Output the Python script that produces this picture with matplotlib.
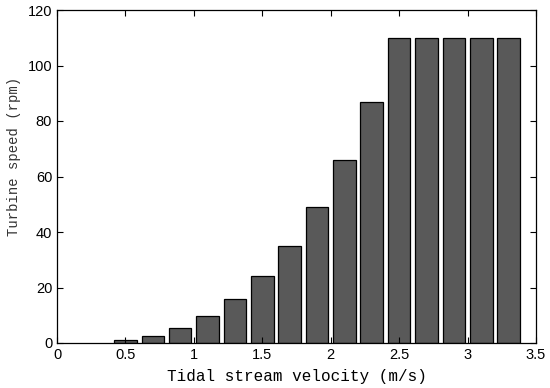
import numpy as np
import matplotlib
matplotlib.use('Agg')
import matplotlib.pyplot as plt

# tidal stream velocity (m/s) and turbine speed (rpm)
velocity = [0.5, 0.7, 0.9, 1.1, 1.3, 1.5, 1.7, 1.9, 2.1, 2.3, 2.5, 2.7, 2.9, 3.1, 3.3]
speed = [1.1, 2.5, 5.3, 9.6, 15.9, 24.1, 35.1, 49.0, 66.1, 87.0, 110, 110, 110, 110, 110]

plt.rcParams['font.family'] = ['Liberation Sans', 'DejaVu Sans']

fig = plt.figure(figsize=(5.5, 3.88), dpi=100)
ax = fig.add_axes([57/550, 1 - 343/388, (536-57)/550, (343-10)/388])
ax.bar(velocity, speed, width=0.165, color='#595959', edgecolor='black', linewidth=0.9)

ax.set_xlim(0, 3.5)
ax.set_ylim(0, 120)
ax.set_xticks(np.arange(0, 3.51, 0.5))
ax.set_xticklabels(['0', '0.5', '1', '1.5', '2', '2.5', '3', '3.5'])
ax.set_yticks(np.arange(0, 121, 20))
ax.tick_params(direction='in', top=True, right=True, labelsize=10.5, length=4, width=0.8)
for s in ax.spines.values():
    s.set_linewidth(0.9)

ax.set_xlabel('Tidal stream velocity (m/s)', family='Liberation Mono', fontsize=11.5, labelpad=5)
ax.set_ylabel('Turbine speed (rpm)', family='Liberation Mono', fontsize=10, color='#333333')
ax.yaxis.set_label_coords(-0.075, 0.56)

fig.savefig('out.png', dpi=100)
